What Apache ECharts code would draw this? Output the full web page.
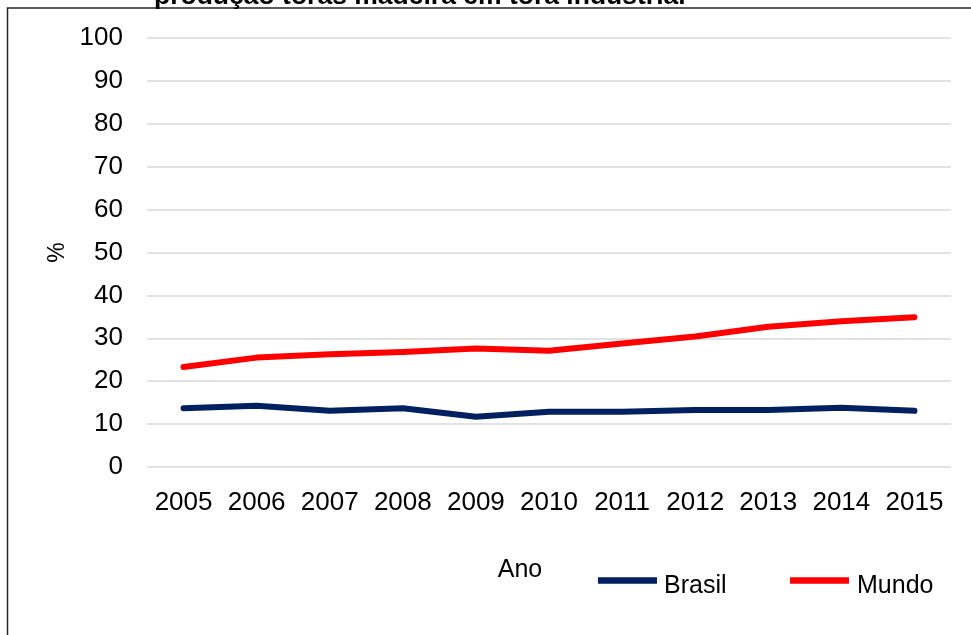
<!DOCTYPE html>
<html>
<head>
<meta charset="utf-8">
<script src="https://cdn.jsdelivr.net/npm/echarts@6/dist/echarts.min.js"></script>
<style>
  html, body { margin: 0; padding: 0; background: #fff; }
  #chart { width: 971px; height: 635px; }
</style>
</head>
<body>
<div id="chart"></div>
<script>
// Anos da série histórica
const anos = ['2005', '2006', '2007', '2008', '2009', '2010', '2011', '2012', '2013', '2014', '2015'];
// Participação (%) na produção de madeira em tora industrial
const brasil = [13.7, 14.3, 13.1, 13.7, 11.7, 12.9, 12.9, 13.3, 13.3, 13.8, 13.1];
const mundo = [23.3, 25.5, 26.3, 26.8, 27.6, 27.1, 28.8, 30.4, 32.7, 34.0, 34.9];
const tituloTexto = 'produção toras madeira em tora industrial';

const fonte = '"Liberation Sans", Arial, sans-serif';
const chart = echarts.init(document.getElementById('chart'));

// Legenda: traço grosso com o texto um pouco abaixo do traço
function legenda(nome, x, recuo) {
  return {
    data: [nome],
    left: x, top: 574,
    padding: 0,
    icon: 'rect', itemWidth: 59, itemHeight: 6.5, itemGap: 0,
    formatter: '{t|{name}}',
    textStyle: {
      fontFamily: fonte, fontSize: 25, color: '#000',
      rich: { t: { fontFamily: fonte, fontSize: 25, color: '#000', padding: [12, 0, 0, recuo] } }
    }
  };
}

chart.setOption({
  backgroundColor: '#ffffff',
  animation: false,
  textStyle: { fontFamily: fonte, color: '#000' },
  title: {
    text: tituloTexto,
    left: 154,
    top: -17,
    padding: 0,
    textStyle: { fontFamily: fonte, fontSize: 26.5, fontWeight: 'bold', color: '#000' }
  },
  graphic: [{
    type: 'rect',
    shape: { x: 7.5, y: 8, width: 1100, height: 800 },
    style: { fill: null, stroke: '#262626', lineWidth: 1.5 },
    silent: true,
    z: -1
  }],
  grid: { left: 147, right: 20, top: 38, bottom: 168 },
  legend: [legenda('Brasil', 598, 2), legenda('Mundo', 790, 3)],
  xAxis: {
    type: 'category',
    data: anos,
    boundaryGap: true,
    name: 'Ano',
    nameLocation: 'middle',
    nameGap: 91,
    nameTextStyle: { fontFamily: fonte, fontSize: 25, color: '#000', padding: [0, 58, 0, 0] },
    axisLine: { show: false },
    axisTick: { show: false },
    axisLabel: { interval: 0, fontFamily: fonte, fontSize: 26, color: '#000', margin: 23 }
  },
  yAxis: {
    type: 'value',
    min: 0, max: 100, interval: 10,
    name: '%',
    nameLocation: 'middle',
    nameRotate: 90,
    nameGap: 78,
    nameTextStyle: { fontFamily: fonte, fontSize: 23, color: '#000' },
    axisLine: { show: false },
    axisTick: { show: false },
    axisLabel: { fontFamily: fonte, fontSize: 26, color: '#000', margin: 24 },
    splitLine: { lineStyle: { color: '#d9d9d9', width: 1.5 } }
  },
  series: [
    {
      name: 'Brasil',
      type: 'line',
      data: brasil,
      symbol: 'none',
      color: '#002060',
      lineStyle: { width: 6, color: '#002060', cap: 'round', join: 'round' }
    },
    {
      name: 'Mundo',
      type: 'line',
      data: mundo,
      symbol: 'none',
      color: '#ff0000',
      lineStyle: { width: 6, color: '#ff0000', cap: 'round', join: 'round' }
    }
  ]
});
</script>
</body>
</html>
